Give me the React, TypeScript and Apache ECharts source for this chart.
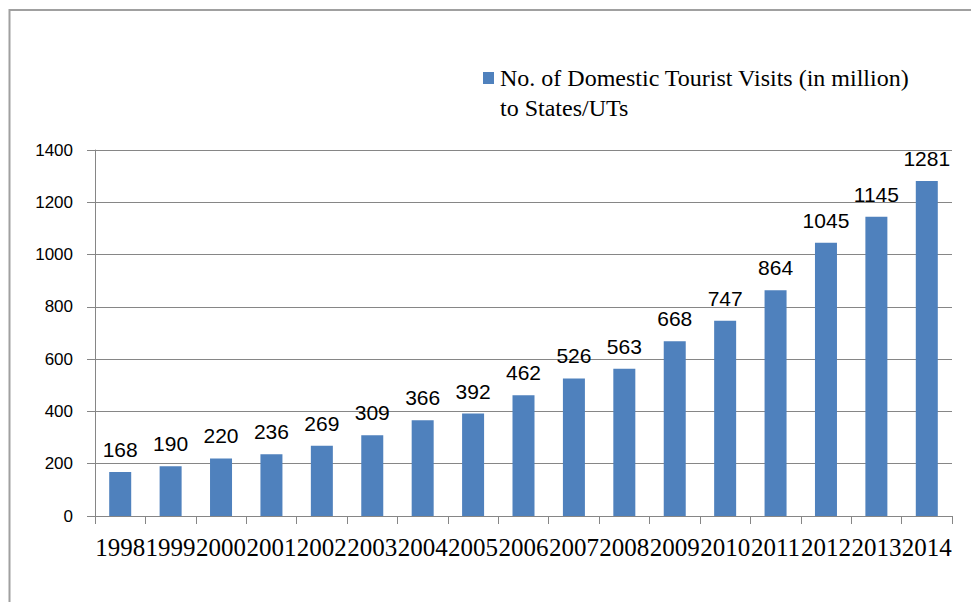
import React, { useEffect, useRef } from "react";
import * as echarts from "echarts";

const years = ["1998","1999","2000","2001","2002","2003","2004","2005","2006","2007","2008","2009","2010","2011","2012","2013","2014"];
const visits = [168,190,220,236,269,309,366,392,462,526,563,668,747,864,1045,1145,1281];
const legendLine1 = "No. of Domestic Tourist Visits (in million)";
const legendLine2 = "to States/UTs";

export default function App() {
  const ref = useRef<HTMLDivElement>(null);
  useEffect(() => {
    const chart = echarts.init(ref.current!, null, { renderer: "svg" });
    chart.setOption({
      animation: false,
      backgroundColor: "#ffffff",
      grid: { left: 95, right: 19, top: 150, bottom: 86 },
      xAxis: {
        type: "category",
        data: years,
        axisLine: { lineStyle: { color: "#868686", width: 1 } },
        axisTick: { show: true, length: 8, alignWithLabel: false, lineStyle: { color: "#868686" } },
        axisLabel: { interval: 0, margin: 19, color: "#000", fontFamily: "Liberation Serif", fontSize: 25 },
      },
      yAxis: {
        type: "value",
        min: 0,
        max: 1400,
        interval: 200,
        axisLine: { show: true, lineStyle: { color: "#868686", width: 1 } },
        axisTick: { show: true, length: 8, lineStyle: { color: "#868686" } },
        splitLine: { show: true, lineStyle: { color: "#868686", width: 1 } },
        axisLabel: { margin: 22, color: "#000", fontFamily: "Liberation Sans", fontSize: 17, formatter: (v: number) => String(v) },
      },
      series: [
        {
          type: "bar",
          name: legendLine1,
          data: visits,
          barWidth: 22,
          itemStyle: { color: "#4F81BD" },
          label: { show: true, position: "top", distance: 12, color: "#000", fontFamily: "Liberation Sans", fontSize: 21 },
        },
      ],
      graphic: [
        { type: "rect", shape: { x: 9.5, y: 10, width: 1200, height: 1200 }, style: { fill: "none", stroke: "#a0a0a0", lineWidth: 2 }, silent: true },
        { type: "rect", shape: { x: 483, y: 72, width: 11, height: 12 }, style: { fill: "#4F81BD" } },
        { type: "text", x: 500, y: 78, style: { text: legendLine1, fill: "#000", font: "24px 'Liberation Serif'", verticalAlign: "middle", align: "left" } },
        { type: "text", x: 500, y: 108, style: { text: legendLine2, fill: "#000", font: "24px 'Liberation Serif'", verticalAlign: "middle", align: "left" } },
      ],
    });
    return () => chart.dispose();
  }, []);
  return <div ref={ref} style={{ position: "fixed", left: 0, top: 0, width: 971, height: 602 }} />;
}
